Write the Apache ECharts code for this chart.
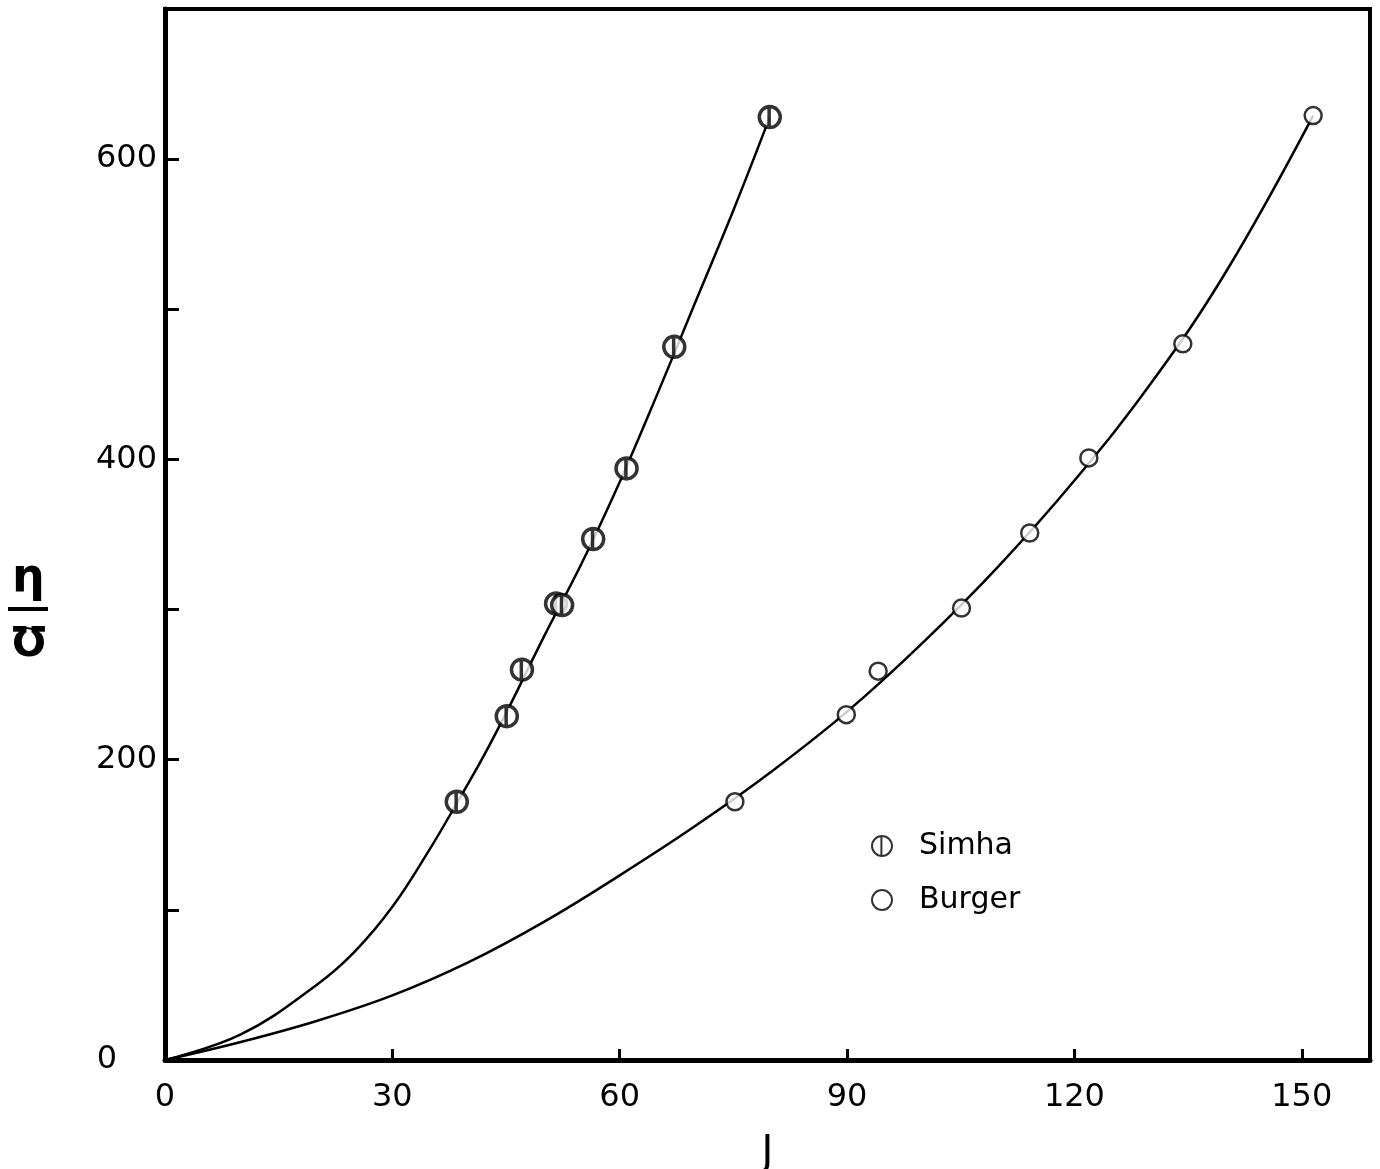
<!DOCTYPE html>
<html>
<head>
<meta charset="utf-8">
<title>η/c versus J</title>
<script src="https://cdn.jsdelivr.net/npm/echarts@6/dist/echarts.min.js"></script>
<style>
  html, body { margin: 0; padding: 0; background: #fff; }
  #chart { width: 1380px; height: 1169px; }
</style>
</head>
<body>
<div id="chart"></div>
<script>
// Measured points: [J, η/c]
const simhaPoints = [
  [38.5, 172], [45.1, 229], [47.1, 260], [51.6, 304], [52.4, 303],
  [56.5, 347], [60.9, 394], [67.2, 475], [79.8, 628]
];
const burgerPoints = [
  [75.2, 172], [89.9, 230], [94.1, 259], [105.1, 301], [114.1, 351],
  [121.9, 401], [134.3, 477], [151.5, 629]
];

// Hand-fitted curves through the origin
const simhaCurve = [
  [0, 0], [10, 17], [20, 50], [25, 72], [30, 102], [35, 141], [38.5, 171],
  [42, 202], [45.5, 236], [50, 282], [55, 331], [60, 385], [65, 444],
  [70, 505], [75, 566], [79.8, 628]
];
const burgerCurve = [
  [0, 0], [10, 12], [20, 26], [30, 43], [40, 65], [50, 92], [60, 123],
  [70, 156], [80, 192], [90, 232], [100, 278], [110, 329], [120, 386],
  [130, 450], [140, 525], [151.5, 629]
];

const xTicks = [0, 30, 60, 90, 120, 150];
const yLabelled = [0, 200, 400, 600];

const FONT = '"DejaVu Sans", sans-serif';
const SIMHA_SYMBOL = 'path://M0,-10A10,10 0 1 1 0,10A10,10 0 1 1 0,-10ZM-0.6,-10L-0.6,10';

const chart = echarts.init(document.getElementById('chart'), null, { renderer: 'canvas' });

chart.setOption({
  backgroundColor: '#ffffff',
  animation: false,
  grid: {
    left: 165, right: 10, top: 9, bottom: 109,
    outerBoundsMode: 'none', containLabel: false,
    show: true, borderColor: '#000', borderWidth: 4, backgroundColor: 'transparent'
  },
  xAxis: {
    type: 'value', min: 0, max: 159, interval: 30,
    name: 'J', nameLocation: 'middle', nameGap: 74,
    nameTextStyle: { color: '#000', fontSize: 40, fontFamily: FONT, verticalAlign: 'top' },
    axisLine: { show: true, onZero: false, lineStyle: { color: '#000', width: 5 } },
    axisTick: { show: true, inside: true, length: 11, lineStyle: { color: '#000', width: 3 } },
    axisLabel: {
      color: '#000', fontSize: 32, fontFamily: FONT, margin: 22,
      showMaxLabel: false,
      formatter: v => xTicks.includes(v) ? String(v) : ''
    },
    splitLine: { show: false }
  },
  yAxis: {
    type: 'value', min: 0, max: 700, interval: 100,
    axisLine: { show: true, onZero: false, lineStyle: { color: '#000', width: 5 } },
    axisTick: { show: true, inside: true, length: 14, lineStyle: { color: '#000', width: 3 } },
    axisLabel: {
      color: '#000', fontSize: 32, fontFamily: FONT, margin: 8,
      formatter: v => yLabelled.includes(v) ? (v === 0 ? '{z|0}' : String(v)) : '',
      rich: { z: { fontSize: 32, fontFamily: FONT, color: '#000', padding: [0, 40, 0, 0] } }
    },
    splitLine: { show: false }
  },
  legend: {
    orient: 'vertical', left: 866, top: 826,
    itemWidth: 20, itemHeight: 20, itemGap: 24,
    data: ['Simha', 'Burger'],
    textStyle: { color: '#000', fontSize: 30, fontFamily: FONT, padding: [0, 0, 0, 22] }
  },
  graphic: [
    {
      type: 'group', left: 8, top: 556,
      children: [
        { type: 'text', x: 8, y: 0,
          style: { text: 'η', fill: '#000', font: 'bold 46px "DejaVu Sans"' } },
        { type: 'rect', shape: { x: 4, y: 51, width: 40, height: 4 }, style: { fill: '#000' } },
        { type: 'text', x: 18, y: 64,
          style: { text: '~', fill: '#000', font: 'bold 18px "DejaVu Sans"' } },
        { type: 'text', x: 8, y: 70,
          style: { text: 'Ʊ', fill: '#000', font: 'bold 40px "DejaVu Sans"' } }
      ]
    }
  ],
  series: [
    {
      name: 'Simha curve', type: 'line', data: simhaCurve, smooth: 0.4,
      showSymbol: false, silent: true, z: 2,
      lineStyle: { color: '#000', width: 2.5 }
    },
    {
      name: 'Burger curve', type: 'line', data: burgerCurve, smooth: 0.4,
      showSymbol: false, silent: true, z: 2,
      lineStyle: { color: '#000', width: 2.5 }
    },
    {
      name: 'Simha', type: 'scatter', data: simhaPoints, z: 5,
      symbol: SIMHA_SYMBOL, symbolSize: 21,
      itemStyle: { color: '#fff', borderColor: '#000', borderWidth: 3.5 }
    },
    {
      name: 'Burger', type: 'scatter', data: burgerPoints, z: 5,
      symbol: 'circle', symbolSize: 17,
      itemStyle: { color: '#fff', borderColor: '#000', borderWidth: 2.5 }
    }
  ]
});
</script>
</body>
</html>
